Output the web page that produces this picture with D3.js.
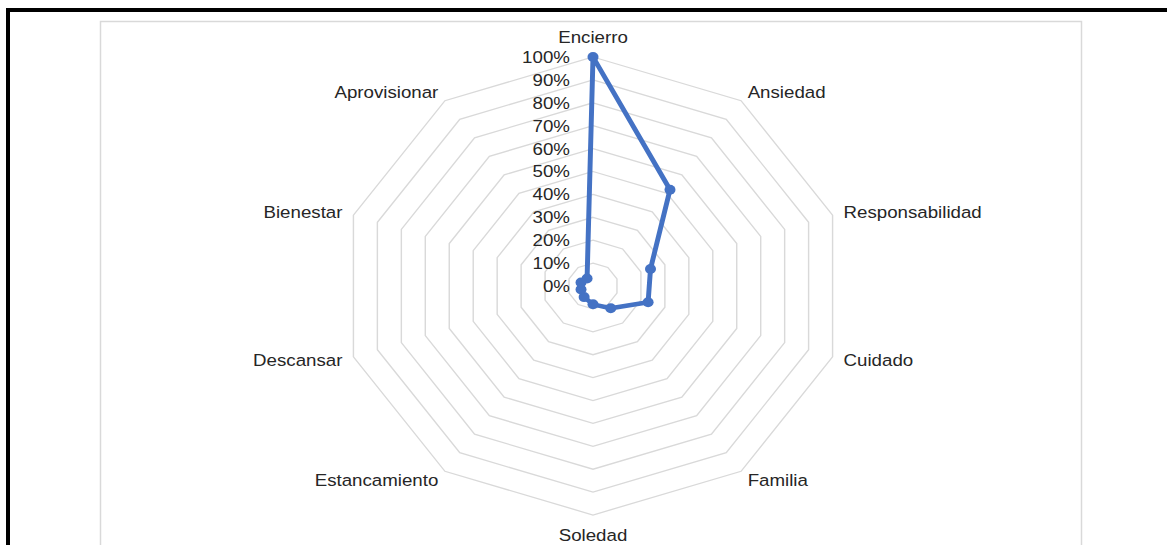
<!DOCTYPE html>
<html>
<head>
<meta charset="utf-8">
<script src="https://cdn.jsdelivr.net/npm/d3@7"></script>
<style>
  body { margin: 0; background: #fff; }
  text { font-family: "Liberation Sans", Arial, sans-serif; fill: #262626; }
</style>
</head>
<body>
<div id="radar"></div>
<script>
// data
var categories = ["Encierro", "Ansiedad", "Responsabilidad", "Cuidado", "Familia",
                  "Soledad", "Estancamiento", "Descansar", "Bienestar", "Aprovisionar"]
var values = [1.00, 0.52, 0.24, 0.23, 0.12, 0.08, 0.06, 0.05, 0.05, 0.04]
var ticks = [0, 0.1, 0.2, 0.3, 0.4, 0.5, 0.6, 0.7, 0.8, 0.9, 1.0]
var tickLabels = ["0%", "10%", "20%", "30%", "40%", "50%", "60%", "70%", "80%", "90%", "100%"]

var svgSize = { width: 1167, height: 545 }

var svg = d3.select("#radar")
    .append("svg")
    .attr("width", svgSize.width)
    .attr("height", svgSize.height)

// outer black frame (top + left only visible)
svg.append("rect")
    .attr("x", 8).attr("y", 10)
    .attr("width", 1200).attr("height", 600)
    .attr("fill", "none")
    .attr("stroke", "#000")
    .attr("stroke-width", 4)

// chart area border
svg.append("rect")
    .attr("x", 100.5).attr("y", 21.5)
    .attr("width", 981).attr("height", 600)
    .attr("fill", "#fff")
    .attr("stroke", "#d9d9d9")
    .attr("stroke-width", 1.5)

var center = { x: 593, y: 286 }
var stretchX = 1.1   // the picture is a bit wider than tall

var frame = svg.append("g")
    .attr("transform", `translate(${center.x}, ${center.y}) scale(${stretchX}, 1)`)

var rScale = d3.scaleLinear().domain([0, 1]).range([0, 229])
var aScale = d3.scaleLinear().domain([0, categories.length]).range([0, 2 * Math.PI])

function point(i, v) {
    var a = aScale(i)
    return [rScale(v) * Math.sin(a), -rScale(v) * Math.cos(a)]
}

// grid rings
var ring = d3.line().curve(d3.curveLinearClosed)
frame.append("g").attr("id", "grid")
    .selectAll("path")
    .data(ticks.filter(t => t > 0))
    .enter()
    .append("path")
    .attr("d", t => ring(categories.map((c, i) => point(i, t))))
    .attr("fill", "none")
    .attr("stroke", "#d9d9d9")
    .attr("stroke-width", 1.3)

// tick labels
frame.append("g").attr("id", "ticks")
    .selectAll("text")
    .data(ticks)
    .enter()
    .append("text")
    .attr("x", -21)
    .attr("y", t => -rScale(t))
    .attr("dy", "0.35em")
    .attr("text-anchor", "end")
    .style("font-size", "17px")
    .text((t, i) => tickLabels[i])

// category labels
frame.append("g").attr("id", "labels")
    .selectAll("text")
    .data(categories)
    .enter()
    .append("text")
    .each(function(c, i) {
        var a = aScale(i), s = Math.sin(a), co = Math.cos(a)
        var v = point(i, 1)
        var anchor = Math.abs(s) < 0.01 ? "middle" : (s > 0 ? "start" : "end")
        var gap = Math.abs(co) > 0.5 ? 6 : 10
        var dx = anchor == "middle" ? 0 : (s > 0 ? gap : -gap)
        var dy
        if (Math.abs(co) > 0.99) dy = -20 * Math.sign(co)
        else if (Math.abs(co) > 0.5) dy = -8.5 * Math.sign(co)
        else dy = -3 * Math.sign(co)
        d3.select(this)
            .attr("x", v[0] + dx)
            .attr("y", v[1] + dy)
            .attr("dy", "0.35em")
            .attr("text-anchor", anchor)
    })
    .style("font-size", "17px")
    .text(d => d)

// series
var series = frame.append("g").attr("id", "series")
series.append("path")
    .attr("d", ring(values.map((v, i) => point(i, v))))
    .attr("fill", "none")
    .attr("stroke", "#4472c4")
    .attr("stroke-width", 4.5)
    .attr("stroke-linejoin", "round")

series.selectAll("circle")
    .data(values)
    .enter()
    .append("circle")
    .attr("cx", (v, i) => point(i, v)[0])
    .attr("cy", (v, i) => point(i, v)[1])
    .attr("r", 5)
    .attr("fill", "#4472c4")
</script>
</body>
</html>
